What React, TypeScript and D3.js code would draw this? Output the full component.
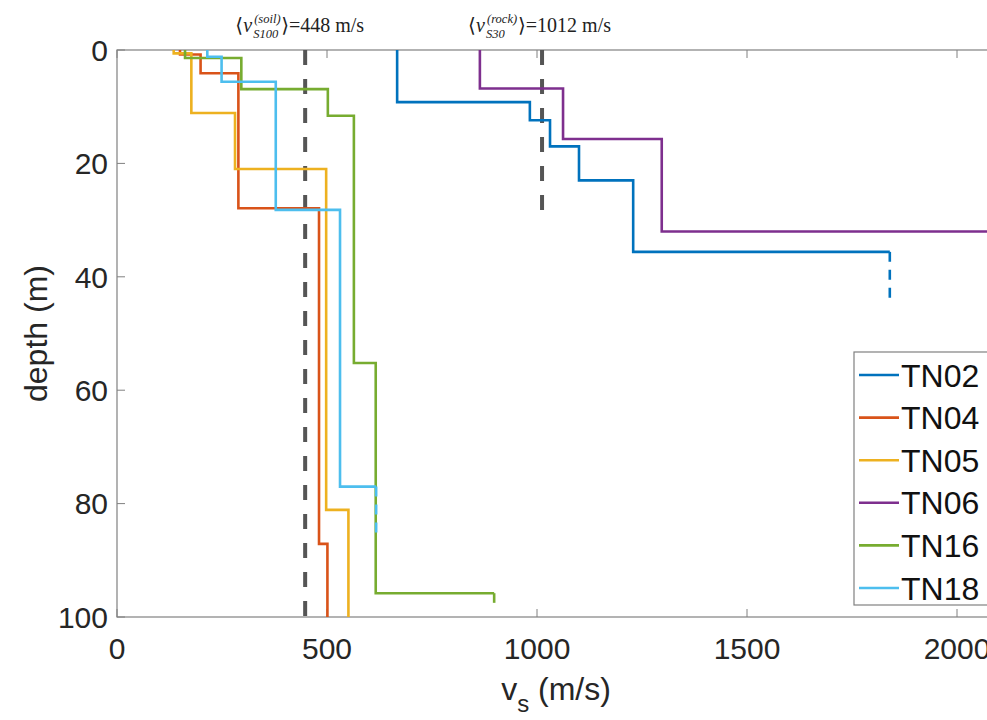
import React from "react";
import * as d3 from "d3";

// shear-wave velocity profiles: layer top depth (m) and vs (m/s) of each layer
const names = ["TN02", "TN04", "TN05", "TN06", "TN16", "TN18"];
const colors = ["#0072BD", "#D95319", "#EDB120", "#7E2F8E", "#77AC30", "#4DBEEE"];
const layerTops = [
  [0, 9.2, 12.4, 17, 23, 35.6],
  [0, 0.8, 4.1, 27.9, 87.1],
  [0, 0.6, 11.1, 21, 81.1],
  [0, 6.8, 15.7, 32],
  [0, 1.4, 6.9, 11.6, 55.2, 95.8],
  [0, 1.2, 5.6, 28.2, 77],
];
const layerVs = [
  [667, 983, 1031, 1100, 1229, 1840],
  [150, 199, 289, 481, 501],
  [135, 177, 281, 498, 551],
  [864, 1062, 1297, 2300],
  [162, 296, 502, 564, 616, 898],
  [215, 249, 378, 531, 617],
];
const profileEnd = [45, 100, 100, 45, 97.5, 86.4];
const dashedLast = [true, false, false, true, true, true];

const xTicks = [0, 500, 1000, 1500, 2000];
const yTicks = [0, 20, 40, 60, 80, 100];

const avgSoil = 448; // <vS100> soil, to 100 m
const avgRock = 1012; // <vS30> rock, to 30 m

const W = 987;
const H = 720;
const left = 117;
const top = 50;
const bottom = 617;

export default function App() {
  const x = d3.scaleLinear().domain([0, 2100]).range([left, 999]);
  const y = d3.scaleLinear().domain([0, 100]).range([top, bottom]);
  const line = d3.line<[number, number]>().x((d) => x(d[0])).y((d) => y(d[1]));

  const sans = "'Liberation Sans', Arial, sans-serif";
  const serif = "'Liberation Serif', 'DejaVu Serif', serif";
  const tickLen = 8;

  const profiles = names.map((name, k) => {
    const tops = layerTops[k];
    const vs = layerVs[k];
    const n = tops.length;
    const pts: [number, number][] = [];
    const lastIdx = dashedLast[k] ? n - 1 : n;
    for (let i = 0; i < n; i++) {
      pts.push([vs[i], tops[i]]);
      if (i < lastIdx) pts.push([vs[i], i + 1 < n ? tops[i + 1] : profileEnd[k]]);
    }
    const dashed: [number, number][] = dashedLast[k]
      ? [[vs[n - 1], tops[n - 1]], [vs[n - 1], profileEnd[k]]]
      : [];
    return { name, color: colors[k], solid: line(pts), dashed: dashed.length ? line(dashed) : null };
  });

  const annotation = (cx: number, sup: string, sub: string, rest: string, restX: number) => {
    const fs = 20;
    const small = 12.5;
    return (
      <g transform={`translate(${cx},32)`} fontFamily={serif} fill="#222">
        <text x={-70} fontSize={fs}>⟨</text>
        <text x={-62} fontSize={fs} fontStyle="italic">v</text>
        <text x={-51} y={-9} fontSize={small} fontStyle="italic">{sup}</text>
        <text x={-52} y={6} fontSize={small} fontStyle="italic">{sub}</text>
        <text x={restX} fontSize={fs}>{rest}</text>
      </g>
    );
  };

  return (
    <svg width={W} height={H} style={{ display: "block", position: "absolute", left: 0, top: 0 }}>
      <rect width={W} height={H} fill="#fff" />
      <defs>
        <clipPath id="plot">
          <rect x={left} y={top} width={999 - left} height={bottom - top} />
        </clipPath>
      </defs>

      {/* axes box */}
      <rect x={left} y={top} width={999 - left} height={bottom - top} fill="none" stroke="#808080" strokeWidth={1.2} />

      {/* ticks */}
      {xTicks.map((t) => (
        <g key={"x" + t}>
          <line x1={x(t)} x2={x(t)} y1={bottom} y2={bottom - tickLen} stroke="#808080" />
          <line x1={x(t)} x2={x(t)} y1={top} y2={top + tickLen} stroke="#808080" />
          <text x={x(t)} y={bottom + 42} textAnchor="middle" fontFamily={sans} fontSize={30} fill="#262626">
            {t}
          </text>
        </g>
      ))}
      {yTicks.map((t) => (
        <g key={"y" + t}>
          <line x1={left} x2={left + tickLen} y1={y(t)} y2={y(t)} stroke="#808080" />
          <text x={left - 9} y={y(t)} dy="0.36em" textAnchor="end" fontFamily={sans} fontSize={30} fill="#262626">
            {t}
          </text>
        </g>
      ))}

      {/* axis labels */}
      <text
        transform={`translate(35,${(top + bottom) / 2}) rotate(-90)`}
        textAnchor="middle"
        dy="0.36em"
        fontFamily={sans}
        fontSize={32}
        fill="#262626"
      >
        depth (m)
      </text>
      <text x={556} y={700} textAnchor="middle" fontFamily={sans} fontSize={32} fill="#262626">
        v<tspan dy={12} fontSize={24}>s</tspan>
        <tspan dy={-12}> (m/s)</tspan>
      </text>

      <g clipPath="url(#plot)">
        {/* average velocity references */}
        <line x1={x(avgSoil)} x2={x(avgSoil)} y1={y(0)} y2={y(100)} stroke="#555" strokeWidth={4} strokeDasharray="15 14" />
        <line x1={x(avgRock)} x2={x(avgRock)} y1={y(0)} y2={y(30)} stroke="#555" strokeWidth={4} strokeDasharray="15 14" />

        {profiles.map((p) => (
          <g key={p.name} fill="none" stroke={p.color} strokeWidth={2.6}>
            <path d={p.solid ?? ""} />
            {p.dashed && <path d={p.dashed} strokeDasharray="10 8" />}
          </g>
        ))}
      </g>

      {annotation(x(avgSoil), "(soil)", "S100", "⟩=448 m/s", -24)}
      {annotation(x(avgRock) - 4, "(rock)", "S30", "⟩=1012 m/s", -20)}

      {/* legend */}
      <g>
        <rect x={854} y={352} width={140} height={253} fill="#fff" stroke="#808080" strokeWidth={1.2} />
        {profiles.map((p, i) => {
          const ly = 375 + i * 42.6;
          return (
            <g key={"lg" + p.name}>
              <line x1={859} x2={899} y1={ly} y2={ly} stroke={p.color} strokeWidth={2.6} />
              <text x={901} y={ly} dy="0.36em" fontFamily={sans} fontSize={32} fill="#111">
                {p.name}
              </text>
            </g>
          );
        })}
      </g>
    </svg>
  );
}
